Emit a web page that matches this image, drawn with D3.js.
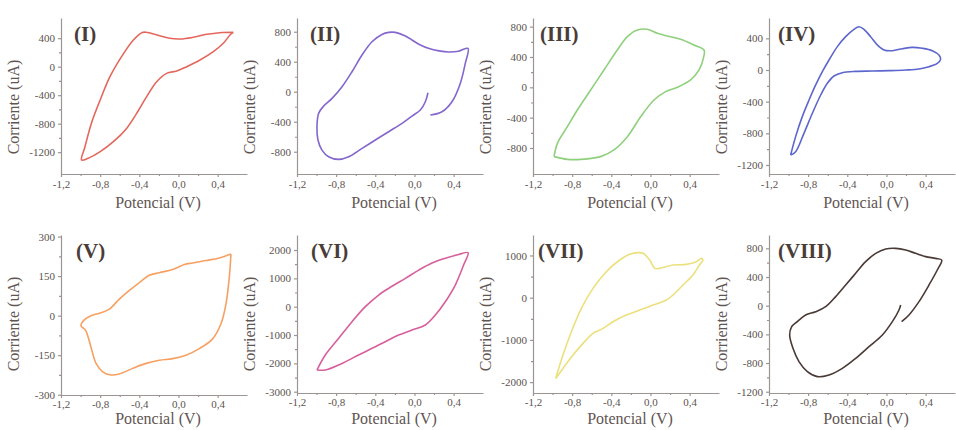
<!DOCTYPE html>
<html>
<head>
<meta charset="utf-8">
<script src="https://cdn.jsdelivr.net/npm/d3@7"></script>
<style>
  * { margin: 0; padding: 0; }
  body { background: #fff; width: 956px; height: 430px; overflow: hidden; }
  svg { display: block; font-family: "Liberation Serif", "Times New Roman", serif; }
  .axis path, .axis line { stroke: #9d9593; stroke-width: 1.2px; }
  .axis text { fill: #5c5350; font-size: 11px; font-family: "Liberation Serif", serif; }
  .title { fill: #5f5553; font-size: 16px; }
  .tag { fill: #4a3d38; font-size: 21px; font-weight: bold; }
  .cv { fill: none; stroke-width: 1.6px; stroke-linejoin: round; }
</style>
</head>
<body>
<svg id="chart" width="956" height="430"></svg>
<script>
// cyclic voltammograms, [potential V, current uA]
const cvI = [[0.56, 482], [0.42, 477], [0.29, 454], [0.15, 412], [0.02, 388], [-0.09, 398], [-0.22, 445], [-0.33, 482], [-0.37, 480],
  [-0.46, 374], [-0.56, 187], [-0.70, -140], [-0.80, -468], [-0.89, -796], [-0.955, -1123], [-0.99, -1310],
  [-0.93, -1290], [-0.80, -1193], [-0.665, -1053], [-0.53, -866], [-0.427, -655], [-0.325, -421], [-0.223, -211],
  [-0.121, -94], [-0.018, -61], [0.084, 0], [0.22, 94], [0.356, 211], [0.458, 328], [0.526, 445], [0.56, 482]];

const cvII = [[0.162, -311], [0.281, -267], [0.383, -133], [0.468, 111], [0.519, 378], [0.547, 578],
  [0.45, 540], [0.35, 530], [0.25, 545], [0.15, 575], [0.05, 630], [-0.093, 742], [-0.196, 791], [-0.264, 791],
  [-0.332, 764], [-0.434, 667], [-0.536, 489], [-0.638, 267], [-0.740, 67], [-0.842, -89], [-0.928, -191],
  [-0.979, -289], [-0.996, -467], [-0.986, -644], [-0.945, -778], [-0.877, -867], [-0.774, -902], [-0.672, -867],
  [-0.536, -756], [-0.4, -644], [-0.264, -533], [-0.127, -422], [-0.025, -324], [0.06, -244], [0.111, -133], [0.138, -13]];

const cvIII = [[-0.985, -914], [-0.951, -739], [-0.849, -519], [-0.747, -299], [-0.611, -35], [-0.475, 229],
  [-0.339, 492], [-0.236, 668], [-0.134, 756], [-0.032, 765], [0.07, 712], [0.172, 677], [0.308, 633],
  [0.444, 558], [0.547, 492], [0.54, 382], [0.496, 229], [0.41, 97], [0.274, 0], [0.155, -57], [0.036, -167],
  [-0.10, -387], [-0.236, -651], [-0.373, -826], [-0.509, -914], [-0.713, -950], [-0.849, -950], [-0.985, -914]];

const cvIV = [[-0.979, -1074], [-0.928, -842], [-0.860, -589], [-0.791, -379], [-0.723, -189], [-0.655, -21],
  [-0.587, 126], [-0.502, 295], [-0.417, 421], [-0.332, 514], [-0.281, 547], [-0.230, 514], [-0.162, 421],
  [-0.093, 316], [-0.025, 253], [0.06, 244], [0.162, 269], [0.264, 286], [0.366, 274], [0.468, 244],
  [0.536, 189], [0.553, 135], [0.519, 84], [0.434, 42], [0.332, 13], [0.196, 0], [0.026, -8], [-0.145, -13],
  [-0.315, -17], [-0.451, -34], [-0.536, -76], [-0.604, -168], [-0.672, -316], [-0.757, -547], [-0.843, -800],
  [-0.928, -1032], [-0.979, -1074]];

const cvV = [[0.536, 234], [0.417, 219], [0.281, 209], [0.145, 200], [0.06, 194], [-0.059, 175], [-0.196, 163],
  [-0.298, 153], [-0.40, 125], [-0.502, 96], [-0.604, 63], [-0.706, 25], [-0.808, 9], [-0.894, 0], [-0.962, -16],
  [-0.996, -38], [-0.95, -55], [-0.928, -75], [-0.894, -119], [-0.842, -181], [-0.774, -213], [-0.689, -225],
  [-0.604, -221], [-0.468, -200], [-0.332, -181], [-0.196, -169], [-0.059, -163], [0.077, -150], [0.213, -125],
  [0.349, -88], [0.434, -31], [0.485, 44], [0.519, 144], [0.536, 234]];

const cvVI = [[-0.996, -2235], [-0.911, -1705], [-0.774, -1117], [-0.638, -529], [-0.502, 0], [-0.366, 412],
  [-0.23, 720], [-0.093, 1000], [0.043, 1290], [0.179, 1540], [0.315, 1710], [0.451, 1840], [0.547, 1905],
  [0.502, 1470], [0.417, 764], [0.315, 176], [0.213, -294], [0.111, -647], [-0.025, -823], [-0.162, -1000],
  [-0.298, -1235], [-0.40, -1411], [-0.502, -1588], [-0.638, -1823], [-0.774, -2058], [-0.911, -2235], [-0.996, -2235]];

const cvVII = [[-0.968, -1912], [-0.894, -1359], [-0.808, -806], [-0.706, -253], [-0.587, 221], [-0.451, 616],
  [-0.315, 893], [-0.213, 1027], [-0.127, 1067], [-0.076, 1051], [-0.008, 893], [0.043, 695], [0.094, 695],
  [0.23, 774], [0.366, 790], [0.468, 853], [0.519, 932], [0.536, 893], [0.5, 774], [0.434, 537], [0.332, 300],
  [0.23, 63], [0.162, -55], [0.026, -174], [-0.11, -292], [-0.247, -411], [-0.383, -569], [-0.485, -727],
  [-0.587, -845], [-0.689, -1082], [-0.791, -1359], [-0.894, -1675], [-0.968, -1912]];

const cvVIII = [[0.155, -223], [0.23, -130], [0.332, 56], [0.434, 288], [0.519, 498], [0.564, 637], [0.502, 660],
  [0.40, 684], [0.298, 730], [0.196, 777], [0.094, 800], [-0.008, 791], [-0.11, 730], [-0.213, 614],
  [-0.315, 451], [-0.417, 288], [-0.519, 126], [-0.621, -14], [-0.723, -84], [-0.826, -130], [-0.911, -223],
  [-0.968, -293], [-0.989, -409], [-0.955, -595], [-0.894, -781], [-0.808, -921], [-0.706, -990], [-0.587, -967],
  [-0.451, -874], [-0.315, -735], [-0.179, -572], [-0.042, -409], [0.06, -223], [0.128, -60], [0.145, 9]];

const panelNames = ["(I)", "(II)", "(III)", "(IV)", "(V)", "(VI)", "(VII)", "(VIII)"];
const xTicks = [-1.2, -0.8, -0.4, 0, 0.4];
const xDomain = [-1.2, 0.7];
const yTicks = [
  [400, 0, -400, -800, -1200],
  [800, 400, 0, -400, -800],
  [800, 400, 0, -400, -800],
  [400, 0, -400, -800, -1200],
  [300, 150, 0, -150, -300],
  [2000, 1000, 0, -1000, -2000, -3000],
  [1000, 0, -1000, -2000],
  [800, 400, 0, -400, -800, -1200]
];
const yDomains = [[-1506, 683], [-1097, 983], [-1143, 914], [-1314, 657],
  [-301, 306], [-3046, 2530], [-2257, 1485], [-1218, 986]];
const curves = [cvI, cvII, cvIII, cvIV, cvV, cvVI, cvVII, cvVIII];
const colors = ["#e4675d", "#8466cc", "#8fd07c", "#5c66cc", "#f6a062", "#d75f9c", "#ece07c", "#4a3a36"];

// layout
const colX = [61, 297, 533, 769];
const rowTop = [18, 235];
const axisBottom = [174, 174, 174, 174, 395, 393, 393, 393];
const titleY = [208, 424];
const tickPad = [3, 2];
const tagDx = [13, 13, 7, 9, 15, 14, 5, 9];
const axisW = 186;

const svg = d3.select("#chart");
const fmtX = d => d.toFixed(1).replace(".", ",");

curves.forEach((data, i) => {
  const col = i % 4, row = Math.floor(i / 4);
  const left = colX[col], top = rowTop[row], bottom = axisBottom[i];

  const x = d3.scaleLinear().domain(xDomain).range([left, left + axisW]);
  const y = d3.scaleLinear().domain(yDomains[i]).range([bottom, top]);

  const yt = yTicks[i];
  const yMinor = yt.slice(1).map((v, k) => (v + yt[k]) / 2);
  const xMinor = xTicks.slice(1).map((v, k) => (v + xTicks[k]) / 2);

  const g = svg.append("g");

  g.append("g").attr("class", "axis")
    .attr("transform", `translate(0,${bottom})`)
    .call(d3.axisBottom(x).tickValues(xTicks).tickSize(3).tickPadding(tickPad[row]).tickSizeOuter(0).tickFormat(fmtX))
    .attr("font-family", null).attr("font-size", null);
  g.append("g").attr("class", "axis")
    .attr("transform", `translate(0,${bottom})`)
    .call(d3.axisBottom(x).tickValues(xMinor).tickSize(2).tickSizeOuter(0).tickFormat(""))
    .call(a => a.select(".domain").remove());

  g.append("g").attr("class", "axis")
    .attr("transform", `translate(${left},0)`)
    .call(d3.axisLeft(y).tickValues(yt).tickSize(3).tickPadding(3).tickSizeOuter(0).tickFormat(d => String(d)))
    .attr("font-family", null).attr("font-size", null);
  g.append("g").attr("class", "axis")
    .attr("transform", `translate(${left},0)`)
    .call(d3.axisLeft(y).tickValues(yMinor).tickSize(2).tickSizeOuter(0).tickFormat(""))
    .call(a => a.select(".domain").remove());

  g.append("path")
    .datum(data)
    .attr("class", "cv")
    .attr("stroke", colors[i])
    .attr("d", d3.line().x(d => x(d[0])).y(d => y(d[1])).curve(d3.curveCatmullRom.alpha(0.5)));

  g.append("text").attr("class", "title")
    .attr("text-anchor", "middle")
    .attr("x", left + axisW / 2 + 4)
    .attr("y", titleY[row])
    .text("Potencial (V)");

  g.append("text").attr("class", "title")
    .attr("text-anchor", "middle")
    .attr("transform", `translate(${left - 42},${top + 89}) rotate(-90)`)
    .text("Corriente (uA)");

  g.append("text").attr("class", "tag")
    .attr("x", left + tagDx[i])
    .attr("y", top + 23)
    .text(panelNames[i]);
});
</script>
</body>
</html>
